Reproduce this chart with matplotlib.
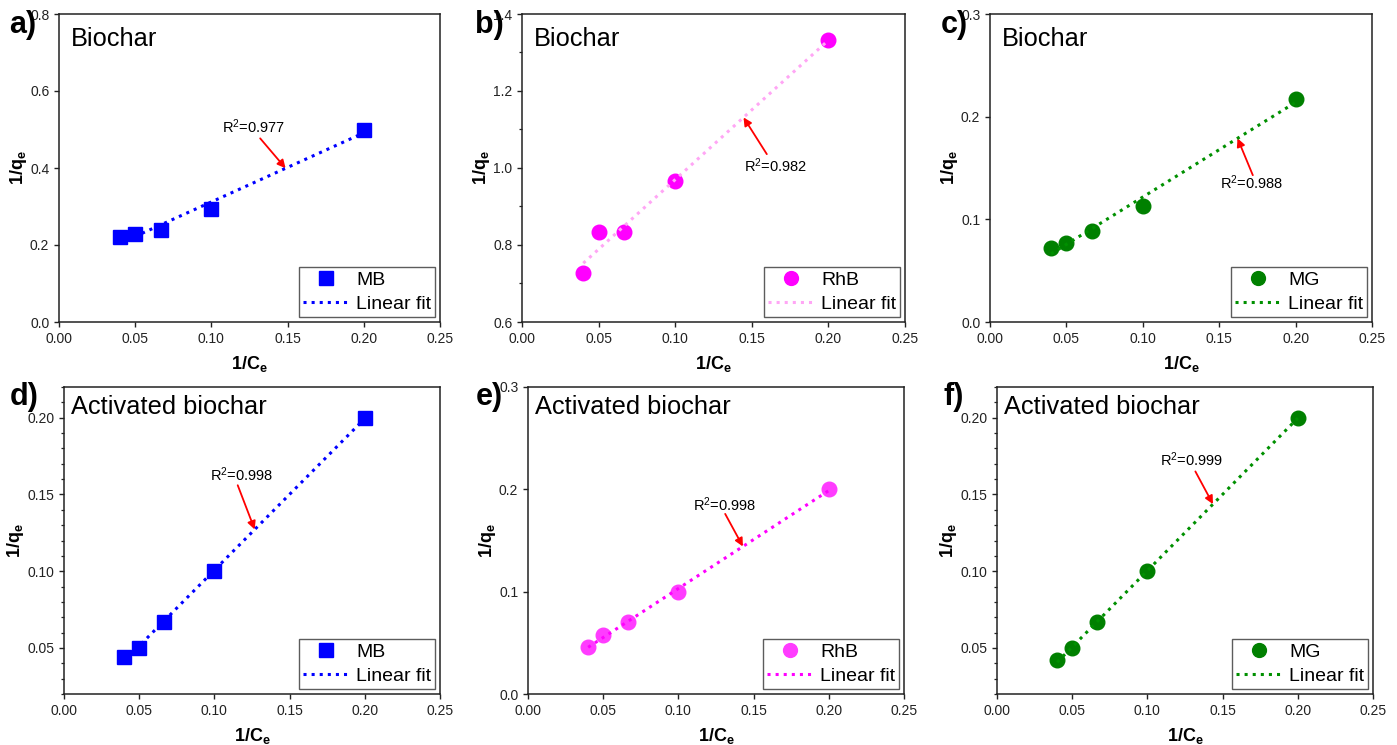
import numpy as np
import matplotlib
matplotlib.use("Agg")
import matplotlib.pyplot as plt
from matplotlib.ticker import MultipleLocator, FormatStrFormatter

plt.rcParams["font.family"] = ["Liberation Sans", "DejaVu Sans"]
plt.rcParams["mathtext.fontset"] = "custom"
plt.rcParams["mathtext.rm"] = "Liberation Sans"
plt.rcParams["mathtext.it"] = "Liberation Sans:italic"
plt.rcParams["mathtext.bf"] = "Liberation Sans:bold"

# Langmuir linearisation: 1/qe vs 1/Ce
inv_ce = [0.04, 0.05, 0.0667, 0.1, 0.2]

mb_biochar = [0.222, 0.228, 0.238, 0.294, 0.500]
rhb_biochar = [0.727, 0.833, 0.833, 0.967, 1.333]
mg_biochar = [0.0725, 0.0767, 0.0887, 0.1134, 0.2174]
mb_activated = [0.044, 0.050, 0.0667, 0.100, 0.200]
rhb_activated = [0.046, 0.058, 0.070, 0.100, 0.200]
mg_activated = [0.042, 0.050, 0.0667, 0.100, 0.200]

r2_values = ["0.977", "0.982", "0.988", "0.998", "0.998", "0.999"]
dyes = ["MB", "RhB", "MG", "MB", "RhB", "MG"]
titles = ["Biochar"] * 3 + ["Activated biochar"] * 3
letters = ["a)", "b)", "c)", "d)", "e)", "f)"]
series = [mb_biochar, rhb_biochar, mg_biochar,
          mb_activated, rhb_activated, mg_activated]

W, H = 1397, 745
fig = plt.figure(figsize=(W / 100, H / 100), dpi=100)

# axes boxes in pixels: left, right, top, bottom
boxes = [(59, 440, 14, 322), (522, 905, 14, 322), (990, 1372, 14, 322),
         (64, 440, 387, 694), (528, 904, 387, 694), (997, 1373, 387, 694)]
letter_pos = [(9, 10), (475, 10), (941, 10), (10, 382), (476, 382), (944, 382)]
title_off = [(12, -13), (12, -13), (12, -13), (7, -8), (7, -8), (7, -8)]

markers = ["s", "o", "o", "s", "o", "o"]
mcolors = ["#0000ff", "#ff00ff", "#008000", "#0000ff", "#ff3cff", "#008000"]
lcolors = ["#0000ff", "#ffa6f5", "#009000", "#0000ff", "#ff00ff", "#009000"]

# y range, major step, minor step, tick format
yaxes = [((0, 0.8), 0.2, None, "%.1f"),
         ((0.6, 1.4), 0.2, 0.1, "%.1f"),
         ((0, 0.3), 0.1, None, "%.1f"),
         ((0.02, 0.22), 0.05, 0.01, "%.2f"),
         ((0, 0.3), 0.1, None, "%.1f"),
         ((0.02, 0.22), 0.05, 0.01, "%.2f")]

# R^2 label (x, y), arrow tail (x, y), arrow head x (head sits on the fit)
notes = [((0.107, 0.49), (0.132, 0.477), 0.1487),
         ((0.145, 0.99), (0.1598, 1.036), 0.1446),
         ((0.1507, 0.13), (0.172, 0.143), 0.162),
         ((0.097, 0.159), (0.1155, 0.156), 0.1268),
         ((0.110, 0.1787), (0.1311, 0.176), 0.1429),
         ((0.1086, 0.1686), (0.1319, 0.165), 0.1436)]

x = np.array(inv_ce)
for i in range(6):
    l, r, t, b = boxes[i]
    ax = fig.add_axes([l / W, 1 - b / H, (r - l) / W, (b - t) / H])
    y = np.array(series[i])

    slope, icpt = np.polyfit(x, y, 1)
    xf = np.array([x.min(), x.max()])

    ax.plot(x, y, ls="none", marker=markers[i], ms=10.5, color=mcolors[i],
            mec=mcolors[i], label=dyes[i], zorder=3)
    ax.plot(xf, slope * xf + icpt, ls=":", lw=2.2, color=lcolors[i],
            label="Linear fit", zorder=4)

    (tx, ty), tail, hx = notes[i]
    ax.text(tx, ty, r"R$^{2}$=" + r2_values[i], fontsize=10.5,
            ha="left", va="baseline")
    ax.annotate("", xy=(hx, slope * hx + icpt), xytext=tail,
                arrowprops=dict(arrowstyle="-|>", color="red", lw=1.3,
                                mutation_scale=12, shrinkA=0, shrinkB=0))

    ax.set_xlim(0, 0.25)
    ax.xaxis.set_major_locator(MultipleLocator(0.05))
    ax.xaxis.set_major_formatter(FormatStrFormatter("%.2f"))
    ylim, step, minor, fmt = yaxes[i]
    ax.set_ylim(*ylim)
    ax.yaxis.set_major_locator(MultipleLocator(step))
    if minor:
        ax.yaxis.set_minor_locator(MultipleLocator(minor))
    ax.yaxis.set_major_formatter(FormatStrFormatter(fmt))
    ax.tick_params(which="major", direction="out", length=3.5, width=1,
                   pad=3.5, labelsize=10, colors="#222222",
                   labelcolor="#222222")
    ax.tick_params(which="minor", direction="out", length=2.5, width=0.9,
                   colors="#222222")
    for s in ax.spines.values():
        s.set_linewidth(1.1)
        s.set_color("#222222")

    ax.set_xlabel(r"$\mathbf{1/C_e}$", fontsize=13, labelpad=6)
    ax.set_ylabel(r"$\mathbf{1/q_e}$", fontsize=13, labelpad=0.5)

    ax.annotate(titles[i], xy=(0, 1), xycoords="axes fraction",
                xytext=title_off[i], textcoords="offset pixels",
                ha="left", va="top", fontsize=18.3)

    leg = ax.legend(loc="lower right", fontsize=14, frameon=True,
                    fancybox=False, borderaxespad=0.25, borderpad=0.2,
                    handlelength=2.4, handletextpad=0.35, labelspacing=0.35,
                    markerscale=0.95)
    leg.get_frame().set_edgecolor("#333333")
    leg.get_frame().set_linewidth(1.0)

    lx, ly = letter_pos[i]
    fig.text(lx / W, 1 - ly / H, letters[i], fontsize=22, fontweight="bold",
             ha="left", va="top")

fig.savefig("out.png", dpi=100)
